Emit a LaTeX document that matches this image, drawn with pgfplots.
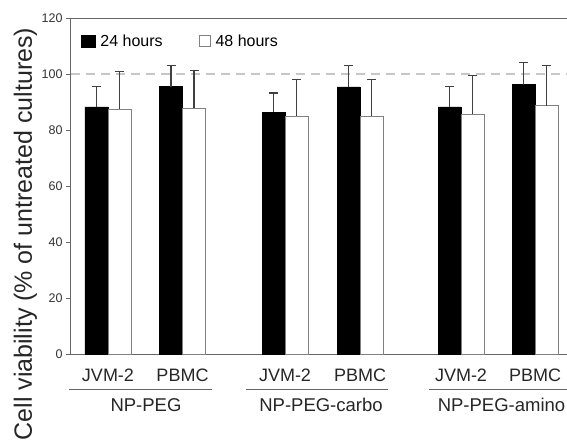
\documentclass[border=0pt]{standalone}
\usepackage{pgfplots}
\pgfplotsset{compat=1.18}
\usepackage{pgfplotstable}
\usepackage{fontspec}
\setmainfont{Liberation Sans}

\pgfplotstableread{
x y e
96.5 88.3 7.2
171 95.5 7.6
273.5 86.3 6.9
348.5 95.4 7.7
449.5 88.3 7.1
523.5 96.2 7.8
}\blackdata
\pgfplotstableread{
x y e
119.5 87.5 13.5
194 87.7 13.5
296.5 84.9 13.1
371.5 84.9 13.0
472.5 85.6 13.9
546.5 88.6 14.3
}\whitedata

\begin{document}
\begin{tikzpicture}
\begin{axis}[
  width=497pt, height=336pt, scale only axis,
  xmin=70, xmax=567, ymin=0, ymax=120,
  clip=false,
  axis lines=left,
  axis line style={-, draw=black!60, line width=0.9pt},
  every outer x axis line/.append style={-},
  every outer y axis line/.append style={-},
  ytick={0,20,...,120},
  /pgf/number format/assume math mode=true,
  yticklabel style={font=\fontsize{12.5}{12.5}\selectfont, color=black!80},
  tick align=outside, major tick length=4pt,
  tick style={black!60, line width=0.9pt},
  xtick={108,182.5,285,360,461,535},
  xticklabels={JVM-2,PBMC,JVM-2,PBMC,JVM-2,PBMC},
  x tick style={draw=none},
  xticklabel style={font=\fontsize{18}{18}\selectfont, anchor=base, yshift=-23pt, color=black!85},
  ylabel={Cell viability (\% of untreated cultures)},
  ylabel style={font=\fontsize{25}{25}\selectfont, at={(axis description cs:-0.0765,0.357)}, anchor=base, color=black!85},
  legend columns=2,
  legend style={at={(axis cs:81,111.8)}, anchor=west, draw=none, fill=none,
    inner sep=0pt, outer sep=0pt, nodes={inner sep=0pt},
    font=\fontsize{16}{16}\selectfont,
    /tikz/every odd column/.append style={column sep=5pt},
    /tikz/every even column/.append style={column sep=36pt}},
]
\addplot[forget plot, draw=black!22, dash pattern=on 9pt off 6pt, line width=1.4pt] coordinates {(71,100) (567,100)};

\addplot[ybar, bar width=23, bar shift=0pt, fill=black, draw=black,
  legend image code/.code={\fill[black] (0pt,-6pt) rectangle (14pt,6pt);},
  error bars/.cd, y dir=plus, y explicit,
  error bar style={line width=1.2pt, draw=black!75},
  error mark options={rotate=90, mark size=4.5pt, line width=1.2pt, draw=black!75}]
  table[x=x, y=y, y error=e] {\blackdata};
\addlegendentry{24 hours}

\addplot[ybar, bar width=23, bar shift=0pt, fill=white, draw=black!50, line width=0.9pt,
  legend image code/.code={\draw[black!50, line width=0.9pt, fill=white] (0pt,-5.5pt) rectangle (11pt,5.5pt);},
  error bars/.cd, y dir=plus, y explicit,
  error bar style={line width=1.2pt, draw=black!75},
  error mark options={rotate=90, mark size=4.5pt, line width=1.2pt, draw=black!75}]
  table[x=x, y=y, y error=e] {\whitedata};
\addlegendentry{48 hours}

\draw[black!60, line width=0.9pt] (rel axis cs:0,1) -- (rel axis cs:1,1);

\draw[black!60, line width=0.9pt] (axis cs:69,-12.6) -- (axis cs:212,-12.6);
\draw[black!60, line width=0.9pt] (axis cs:246,-12.6) -- (axis cs:388,-12.6);
\draw[black!60, line width=0.9pt] (axis cs:429,-12.6) -- (axis cs:567,-12.6);

\node[anchor=base, font=\fontsize{18.5}{18.5}\selectfont, color=black!85] at (axis cs:146,-20.7) {NP-PEG};
\node[anchor=base, font=\fontsize{18.5}{18.5}\selectfont, color=black!85] at (axis cs:321,-20.7) {NP-PEG-carbo};
\node[anchor=base, font=\fontsize{18.5}{18.5}\selectfont, color=black!85] at (axis cs:501.5,-20.7) {NP-PEG-amino};

\coordinate (bbl) at (axis cs:0,-32.14);
\coordinate (btr) at (axis cs:567,126.43);
\end{axis}
\pgfresetboundingbox
\path[use as bounding box] (bbl) rectangle (btr);
\end{tikzpicture}
\end{document}
